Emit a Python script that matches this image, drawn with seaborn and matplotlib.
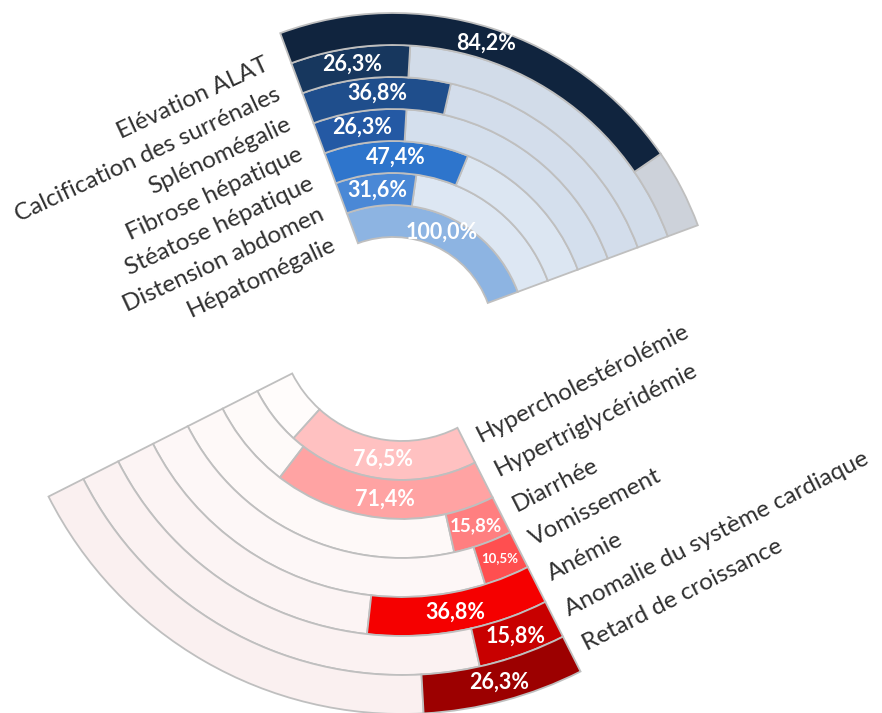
import numpy as np
import matplotlib
matplotlib.use("Agg")
import matplotlib.pyplot as plt
import seaborn as sns

# ---------------- data ----------------
# top fan, listed from the outer ring to the inner ring
liver_labels = ["Elévation ALAT", "Calcification des surrénales", "Splénomégalie",
                "Fibrose hépatique", "Stéatose hépatique", "Distension abdomen",
                "Hépatomégalie"]
liver_values = [84.2, 26.3, 36.8, 26.3, 47.4, 31.6, 100.0]

# bottom fan, listed from the inner ring to the outer ring
other_labels = ["Hypercholestérolémie", "Hypertriglycéridémie", "Diarrhée",
                "Vomissement", "Anémie", "Anomalie du système cardiaque",
                "Retard de croissance"]
other_values = [76.5, 71.4, 15.8, 10.5, 36.8, 15.8, 26.3]

# ---------------- style ----------------
sns.set_theme(style="white")
plt.rcParams["font.family"] = ["Lato", "DejaVu Sans"]

liver_colors = sns.color_palette(["#10243E", "#17375E", "#1F4E8C", "#2459A4",
                                  "#2E75CC", "#4A88D6", "#8DB4E2"])
liver_bg = sns.color_palette(["#CDD2DA", "#D2DCE9", "#D3DDEB", "#D4DFED",
                              "#DCE6F2", "#DDE7F3", "#DDE7F3"])
other_colors = sns.color_palette(["#FFC1C1", "#FFA3A3", "#FF7F80", "#FF4F50",
                                  "#F50000", "#C80000", "#9C0000"])
other_bg = sns.color_palette(["#FFFCFB", "#FEFAF9", "#FEF9F8", "#FDF7F7",
                              "#FCF4F4", "#FBF2F2", "#FAF0F0"])
EDGE = "#BFBFBF"
TXT = "#303030"

W, H = 882, 713
fig = plt.figure(figsize=(W / 100, H / 100), dpi=100)
fig.patch.set_facecolor("white")

SPAN = np.pi / 2  # 100 % = quarter turn


def fan(cx, cy, r_in, ring_w, start_deg, labels, values, colors, bg,
        label_side, label_rot, label_off, pct_sizes):
    n = len(values)
    rmax = r_in + n * ring_w + 6
    ax = fig.add_axes([(cx - rmax) / W, (H - cy - rmax) / H,
                       2 * rmax / W, 2 * rmax / H], projection="polar")
    ax.set_theta_offset(np.deg2rad(start_deg))
    ax.set_theta_direction(-1)
    ax.set_rlim(0, rmax)
    ax.set_axis_off()
    for i in range(n):
        r0 = r_in + i * ring_w
        th = values[i] / 100.0 * SPAN
        if th < SPAN:
            ax.bar(th, ring_w, width=SPAN - th, bottom=r0, align="edge",
                   color=bg[i], edgecolor=EDGE, linewidth=1.3)
        ax.bar(0, ring_w, width=th, bottom=r0, align="edge",
               color=colors[i], edgecolor=EDGE, linewidth=1.3)
        pct = f"{values[i]:.1f}%".replace(".", ",")
        ax.text(th / 2, r0 + ring_w / 2, pct, ha="center", va="center",
                color="white", fontweight="bold",
                fontsize=pct_sizes.get(i, 15.5))
        ax.annotate(labels[i], xy=(0, r0 + ring_w / 2), xytext=label_off,
                    textcoords="offset pixels", rotation=label_rot,
                    rotation_mode="anchor", ha=label_side, va="center",
                    fontsize=17.5, color=TXT, annotation_clip=False)
    return ax


# top fan: data given outer->inner, draw inner->outer
fan(393, 338, 101, 32, 110.3,
    liver_labels[::-1], liver_values[::-1], liver_colors[::-1], liver_bg[::-1],
    "right", 25, (-18, -15), {})

# bottom fan
fan(402, 318, 123, 39, 296.8,
    other_labels, other_values, other_colors, other_bg,
    "left", 27, (12, 9), {2: 13.5, 3: 9.5})

fig.savefig("out.png", dpi=100, facecolor="white")
